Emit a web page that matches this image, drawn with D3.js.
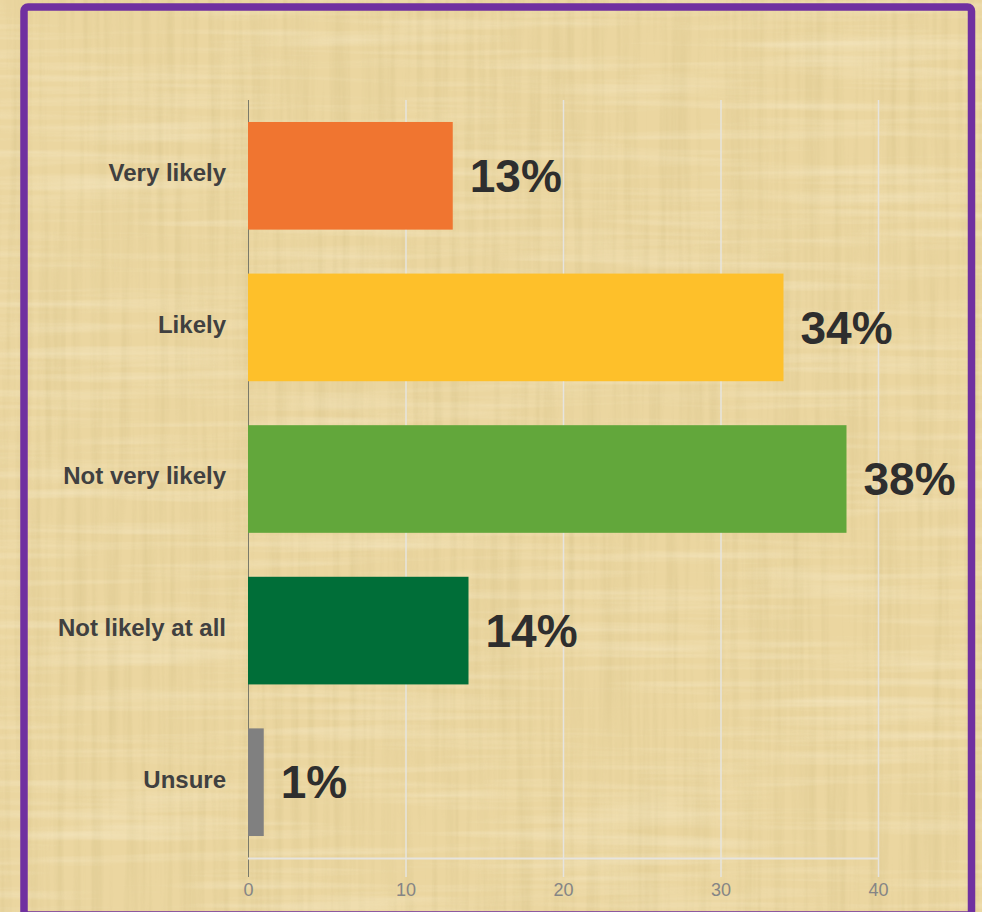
<!DOCTYPE html>
<html lang="en">
<head>
    <meta charset="utf-8">
    <title>Likelihood</title>
    <script src="https://cdn.jsdelivr.net/npm/d3@7"></script>
    <style>
        body { margin: 0; background: #ebd6a0; }
        svg { display: block; }
    </style>
</head>
<body>
<script>
    // Data
    var categories = ["Very likely", "Likely", "Not very likely", "Not likely at all", "Unsure"];
    var values = [13, 34, 38, 14, 1];
    var colors = ["#f07530", "#fec02a", "#62a73b", "#006e38", "#808080"];
    var ticks = [0, 10, 20, 30, 40];

    var w = 982;
    var h = 912;

    var svg = d3.select("body").append("svg")
        .attr("width", w)
        .attr("height", h);

    // papyrus-like background texture
    var defs = svg.append("defs");
    var f1 = defs.append("filter").attr("id", "fibV")
        .attr("x", 0).attr("y", 0).attr("width", "100%").attr("height", "100%");
    f1.append("feTurbulence").attr("type", "fractalNoise")
        .attr("baseFrequency", "0.12 0.004").attr("numOctaves", 3).attr("seed", 4);
    f1.append("feColorMatrix").attr("type", "matrix")
        .attr("values", "0 0 0 0 0.62  0 0 0 0 0.50  0 0 0 0 0.22  0 0 0 1.4 -0.55");
    var f2 = defs.append("filter").attr("id", "fibH")
        .attr("x", 0).attr("y", 0).attr("width", "100%").attr("height", "100%");
    f2.append("feTurbulence").attr("type", "fractalNoise")
        .attr("baseFrequency", "0.004 0.1").attr("numOctaves", 3).attr("seed", 9);
    f2.append("feColorMatrix").attr("type", "matrix")
        .attr("values", "0 0 0 0 0.98  0 0 0 0 0.92  0 0 0 0 0.74  0 0 0 1.4 -0.6");

    svg.append("rect").attr("width", w).attr("height", h).attr("fill", "#ebd6a0");
    svg.append("rect").attr("width", w).attr("height", h)
        .attr("filter", "url(#fibV)").attr("opacity", 0.45);
    svg.append("rect").attr("width", w).attr("height", h)
        .attr("filter", "url(#fibH)").attr("opacity", 0.5);

    // purple frame
    svg.append("rect")
        .attr("x", 24).attr("y", 7)
        .attr("width", 947.5).attr("height", 908)
        .attr("rx", 4)
        .attr("fill", "none")
        .attr("stroke", "#7030a0")
        .attr("stroke-width", 7.5);

    // Scales
    var x = d3.scaleLinear().domain([0, 40]).range([248, 878]);
    var y = d3.scaleBand().domain(categories).range([100, 858])
        .paddingInner(0.29).paddingOuter(0.145);

    // Axis with gridlines
    var axis = svg.append("g")
        .attr("transform", "translate(0,100)")
        .call(d3.axisBottom(x).tickValues(ticks).tickSize(777).tickPadding(6));
    axis.select(".domain").remove();
    axis.selectAll(".tick line")
        .attr("stroke", function(d) { return d === 0 ? "#7a7a6a" : "#e6e4de"; })
        .attr("stroke-width", function(d) { return d === 0 ? 1 : 1.5; });
    axis.selectAll(".tick text")
        .attr("fill", "#858585")
        .style("font-family", "Arial, 'Liberation Sans', sans-serif")
        .style("font-size", "18px");

    // baseline
    svg.append("line")
        .attr("x1", x(0)).attr("x2", x(40))
        .attr("y1", 858.5).attr("y2", 858.5)
        .attr("stroke", "#e6e4de")
        .attr("stroke-width", 2);

    // Bars
    svg.selectAll("rect.bar")
        .data(values)
        .enter()
        .append("rect")
        .attr("class", "bar")
        .attr("x", x(0))
        .attr("y", function(d, i) { return y(categories[i]); })
        .attr("width", function(d) { return x(d) - x(0); })
        .attr("height", y.bandwidth())
        .attr("fill", function(d, i) { return colors[i]; });

    // Value labels
    svg.selectAll("text.val")
        .data(values)
        .enter()
        .append("text")
        .attr("class", "val")
        .attr("x", function(d) { return x(d) + 17; })
        .attr("y", function(d, i) { return y(categories[i]) + y.bandwidth() / 2; })
        .attr("dy", "0.35em")
        .attr("fill", "#2e2e2e")
        .style("font-family", "Arial, 'Liberation Sans', sans-serif")
        .style("font-weight", "bold")
        .style("font-size", "46px")
        .text(function(d) { return d + "%"; });

    // Category labels
    svg.selectAll("text.cat")
        .data(categories)
        .enter()
        .append("text")
        .attr("class", "cat")
        .attr("x", 226)
        .attr("y", function(d) { return y(d) + y.bandwidth() / 2 - 3; })
        .attr("dy", "0.35em")
        .attr("text-anchor", "end")
        .attr("fill", "#404040")
        .style("font-family", "Arial, 'Liberation Sans', sans-serif")
        .style("font-weight", "bold")
        .style("font-size", "24px")
        .text(function(d) { return d; });
</script>
</body>
</html>
